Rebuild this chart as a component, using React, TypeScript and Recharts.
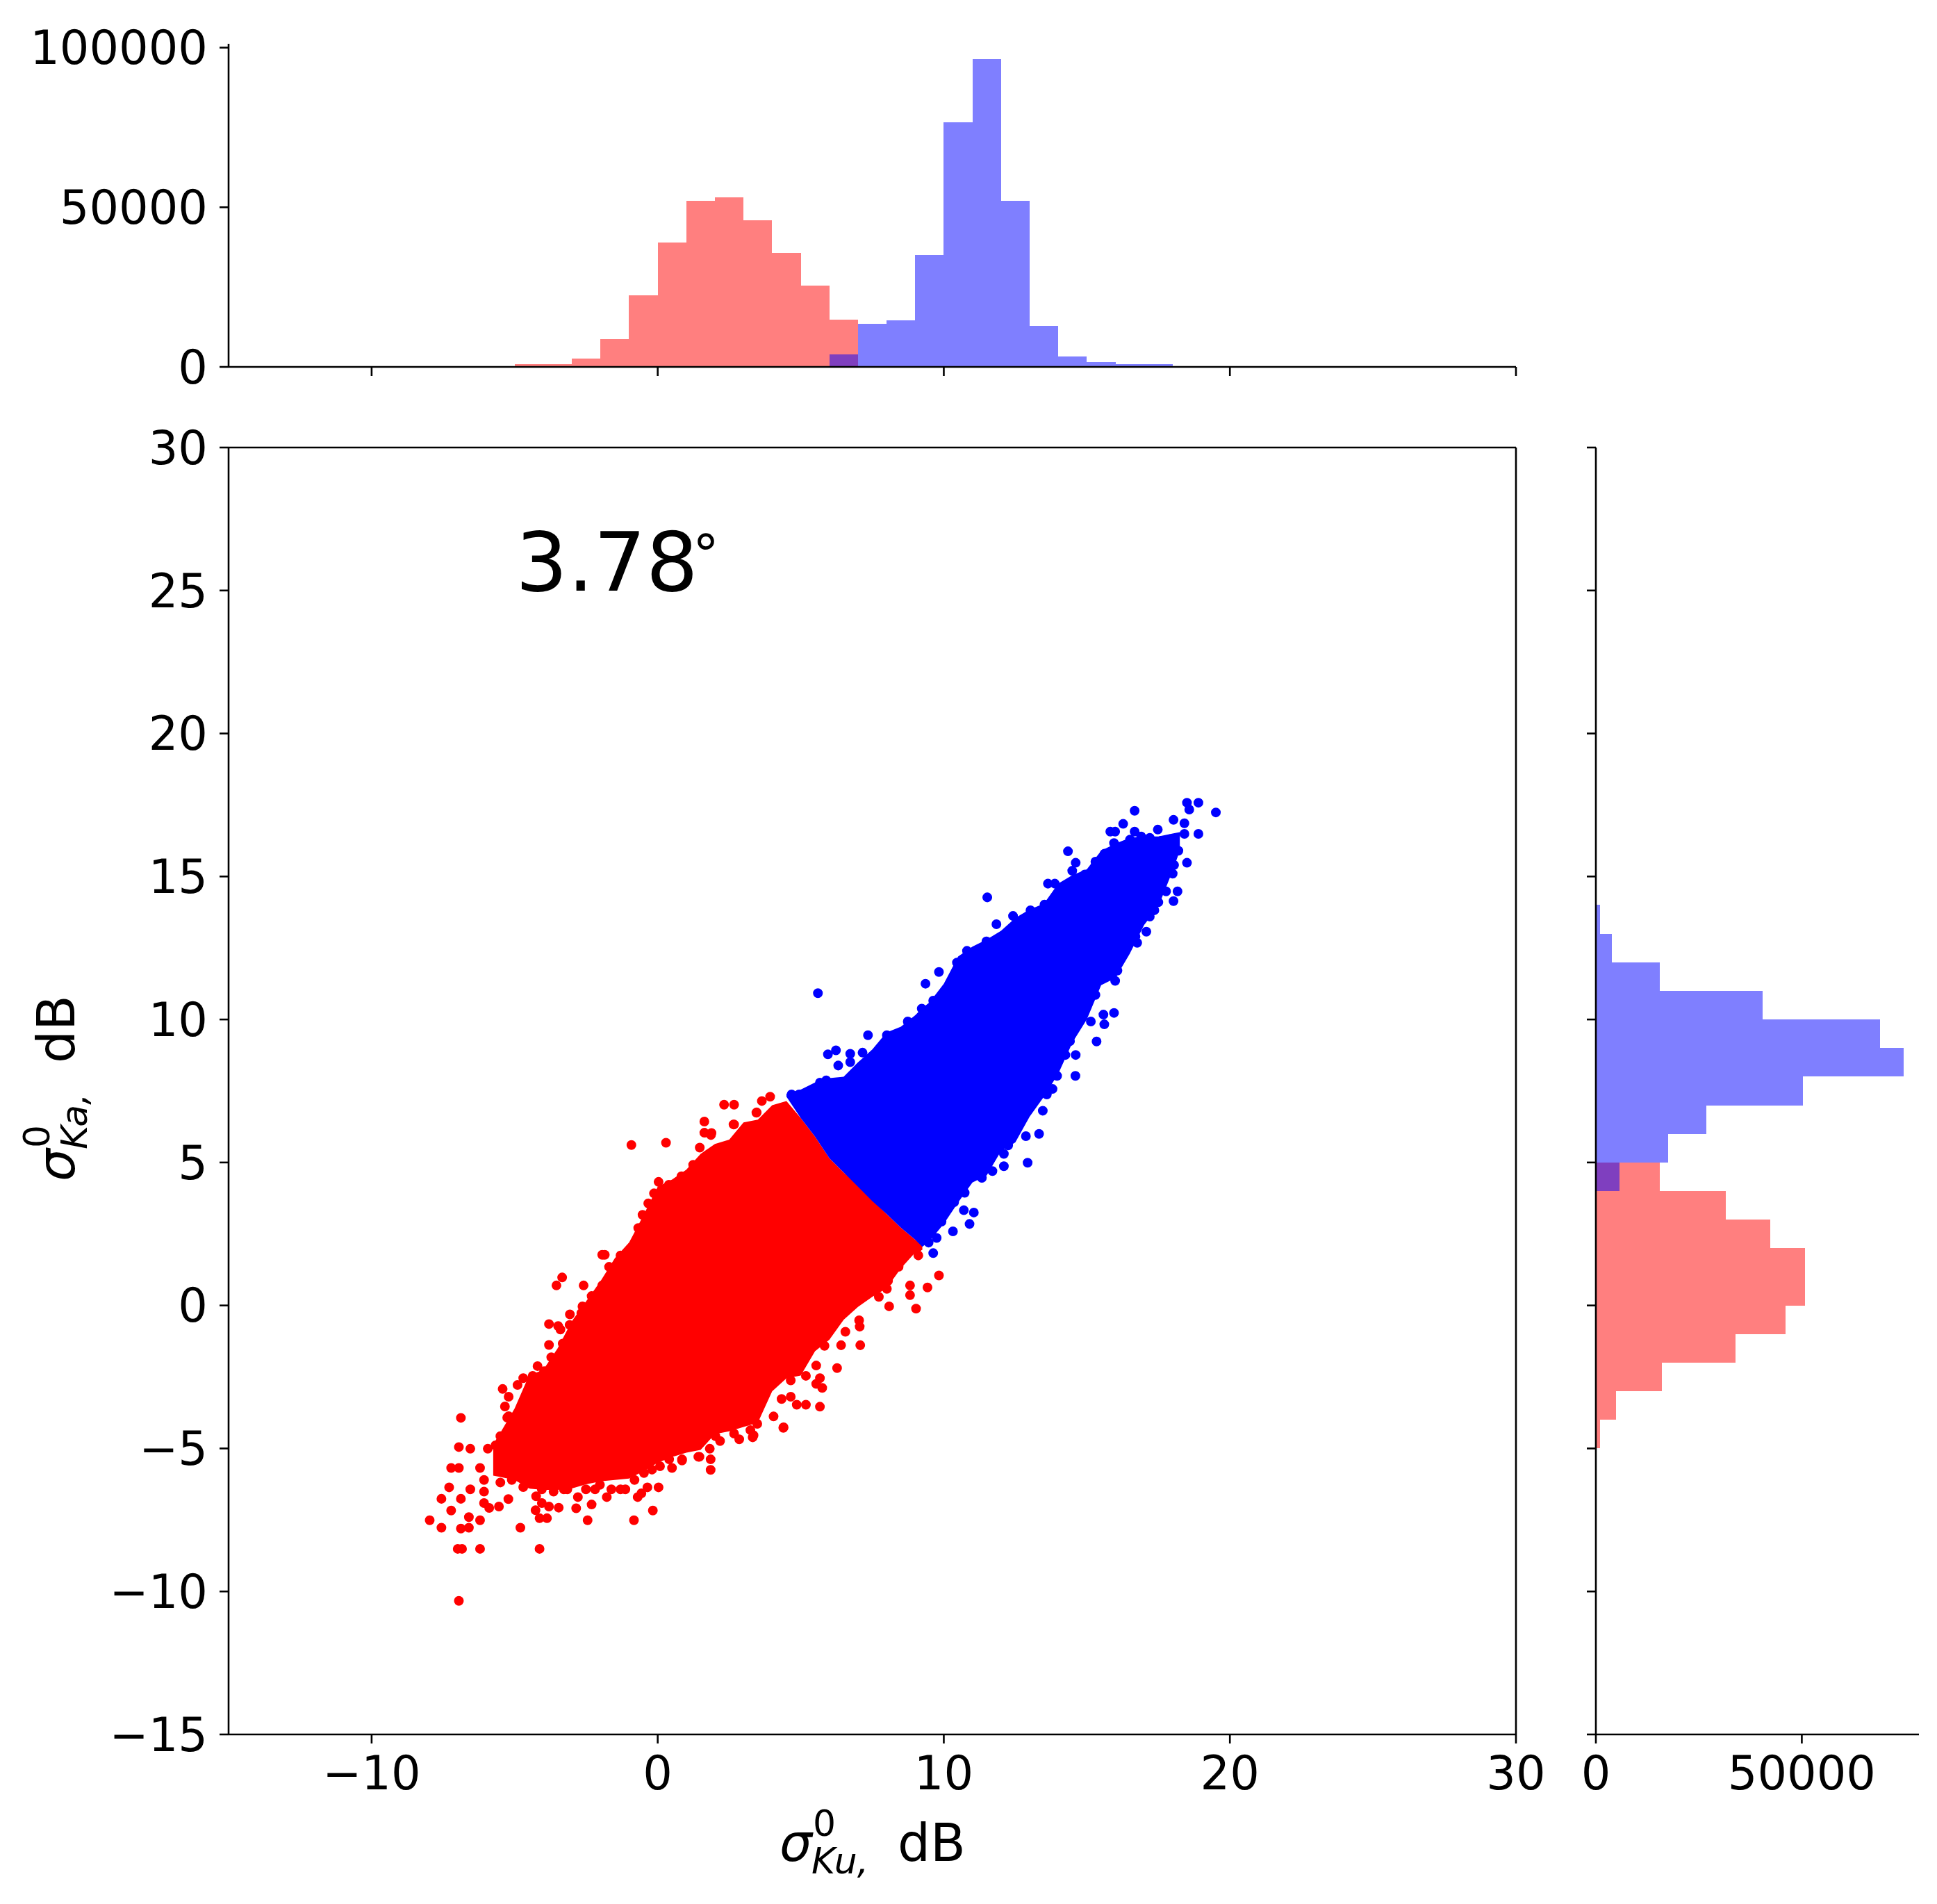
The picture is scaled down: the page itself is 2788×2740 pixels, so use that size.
import { Area, Bar, BarChart, ComposedChart, Scatter, XAxis, YAxis, ZAxis } from 'recharts'

const FONT = '"DejaVu Sans", sans-serif'
const TICK_SIZE = 13
const LINE = { stroke: '#000', strokeWidth: 2.6 }
const TICK_TEXT = { fontSize: 67, fill: '#000', fontFamily: FONT }
// just under one bin, recharts shrinks a bar that fills its band
const BIN_W = 41.17
const BIN_H = 41.15

const kuTicks = [-10, 0, 10, 20, 30]
const kaTicks = [-15, -10, -5, 0, 5, 10, 15, 20, 25, 30]
const topCountTicks = [0, 50000, 100000]
const rightCountTicks = [0, 50000]

// top histogram, 1 dB bins
const kuBins = [-4.5, -3.5, -2.5, -1.5, -0.5, 0.5, 1.5, 2.5, 3.5, 4.5, 5.5, 6.5, 7.5, 8.5, 9.5, 10.5, 11.5, 12.5, 13.5, 14.5, 15.5, 16.5, 17.5]
const kuRed = [850, 850, 2640, 8700, 22450, 38870, 52080, 53200, 45940, 35750, 25570, 14700]
const kuBlue = [3870, 13400, 14600, 35100, 76600, 96400, 52080, 12900, 3200, 1500, 850, 850]

// right histogram, 1 dB bins
const kaBins = [-4.5, -3.5, -2.5, -1.5, -0.5, 0.5, 1.5, 2.5, 3.5, 4.5, 5.5, 6.5, 7.5, 8.5, 9.5, 10.5, 11.5, 12.5, 13.5]
const kaRed = [1080, 4830, 16080, 33880, 46090, 50730, 50730, 42280, 31530, 15570]
const kaBlue = [5790, 17480, 26890, 50290, 74700, 69040, 40430, 15570, 3880, 1080]

const cloudKu = [-5.75, -5.5, -5, -4.5, -4, -3.5, -3, -2.5, -2, -1.5, -1, -0.5, 0, 0.5, 1, 1.5, 2, 2.5, 3, 3.5, 4, 4.5, 5, 5.5, 6, 6.5, 7, 7.5, 8, 8.5, 9, 9.25, 9.5, 10, 10.5, 11, 11.5, 12, 12.5, 13, 13.5, 14, 14.5, 15, 15.5, 16, 16.5, 17, 17.5, 18, 18.25]
const redLow = [-5.95, -6, -6.1, -6.4, -6.45, -6.45, -6.4, -6.25, -6.15, -6.1, -6.05, -5.8, -5.5, -5.3, -5.15, -5.05, -4.5, -4.4, -4.25, -4.1, -3, -2.55, -2.45, -1.6, -1.2, -0.5, -0.05, 0.3, 0.6, 1.3, 1.85, 1.95]
const redHigh = [-4.85, -4.45, -3.6, -2.45, -2.25, -1.5, -0.55, 0.15, 0.85, 1.65, 2.2, 3.15, 4.15, 4.4, 4.75, 5.3, 5.65, 5.8, 6.4, 6.5, 7, 7.15, 6.55, 5.9, 5.15, 4.65, 4.2, 3.7, 3.2, 2.72, 2.3, 2.1]
const blueLow = [7.3, 6.55, 5.9, 5.15, 4.65, 4.15, 3.65, 3.2, 2.72, 2.3, 2.05, 2.25, 2.85, 3.6, 4.3, 4.55, 5.4, 5.7, 6.6, 7.3, 8.1, 9.2, 10, 11.2, 11.45, 12.3, 13.3, 13.95, 15.2, 15.9]
const blueHigh = [7.4, 7.55, 7.8, 7.95, 8, 8.5, 8.95, 9.55, 9.75, 10.15, 10.4, 10.6, 11.25, 12.2, 12.55, 12.8, 13.1, 13.55, 13.85, 14.05, 14.75, 15.05, 15.25, 15.9, 16.15, 16.35, 16.4, 16.4, 16.5, 16.55]
const BLUE_START = cloudKu.indexOf(4.5)

const redDots = [
  [-6.95, -10.33], [-4.13, -8.51], [-6.21, -8.51], [-6.99, -8.51], [-6.84, -8.51], [-4.8, -7.77], [-2.45, -7.51], [-0.83, -7.51],
  [-0.17, -7.17], [-7.97, -7.51], [-7.56, -7.77], [-6.88, -7.8], [-6.6, -7.77], [-6.6, -7.4], [-6.21, -7.51], [-7.22, -7.17],
  [-7.56, -6.76], [-6.88, -6.76], [-7.29, -6.36], [-6.55, -6.43], [-7.22, -5.68], [-6.95, -5.68], [-6.21, -5.68], [-6.95, -4.95],
  [-6.55, -5.01], [-5.94, -5.01], [-6.88, -3.93], [-3.8, -1.38], [-3.8, -0.65], [-3.07, -0.31], [-3.54, 0.7], [-3.34, 0.98],
  [-2.59, 0.7], [-1.85, 1.77], [-1.94, 1.77], [-4.2, -2.12], [-5.42, -2.92], [-5.21, -3.19], [-5.34, -3.53], [-5.21, -3.87],
  [0.03, -6.36], [-0.36, -6.36], [-0.57, -6.57], [-0.7, -6.7], [-1.78, -6.7], [-2.31, -6.96], [-2.85, -7.09], [-3.46, -7.07],
  [-3.87, -7.44], [-4.13, -7.44], [-4.27, -7.16], [-2.79, -6.7], [0.5, -5.68], [1.85, -5.75], [1.85, -5.38], [2.18, -4.74],
  [2.85, -4.68], [3.32, -4.61], [3.48, -4.14], [-6.07, -6.1], [-6.07, -6.51], [-6.07, -6.91], [-5.89, -7.08], [-5.55, -7.03],
  [-5.22, -6.77], [-4.25, -6.67], [-4.05, -6.91], [-3.8, -7.03], [-3.28, -6.43], [-2.02, -6.27], [-1.3, -6.43], [-0.81, -6.1],
  [-0.2, -5.74], [0.85, -5.42], [1.46, -5.29], [1.82, -5.01], [-2.63, -0.03], [-3.48, -0.72], [-4.7, -2.54], [-4.9, -2.78],
  [2.32, 7.02], [2.67, 7.02], [3.64, 7.15], [3.93, 7.3], [3.46, 6.75], [1.63, 6.43], [1.63, 6.04], [1.86, 5.96], [1.47, 5.52],
  [2.67, 6.33], [9.83, 1.05], [9.43, 0.63], [8.82, 0.7], [8.82, 0.36], [9.03, -0.11], [8.09, -0.03], [7.04, -0.52], [7.06, -0.74],
  [7.08, -1.39], [6.41, -1.39], [6.27, -2.19], [5.67, -2.54], [5.54, -2.74], [5.75, -2.88], [5.67, -3.54], [5.18, -3.47],
  [4.86, -3.47], [4.65, -3.19], [4.33, -3.27], [4.05, -3.88], [4.39, -4.28], [8.05, 0.86], [8.01, 0.58], [7.73, 0.3],
  [6.56, -0.92], [5.83, -1.41], [5.54, -2.1], [5.18, -2.46], [4.65, -2.62], [8.42, 1.35], [9.11, 1.75], [9.06, 1.99],
  [-0.92, 5.61], [0.29, 5.69], [-5.67, -4.89], [-5.5, -4.57], [-5.26, -3.92], [-4.37, -2.46], [-3.97, -2.3], [-3.72, -1.81],
  [-3.32, -1.33], [-3.4, -0.84], [-3.08, -0.68], [-2.67, -0.27], [-2.31, 0.33], [-1.94, 0.7], [-1.7, 1.35], [-1.3, 1.75],
  [-5.5, -6.19], [-5.1, -6.1], [-4.7, -6.35], [-4.05, -6.43], [-3.64, -6.51], [-3.16, -6.43], [-2.51, -6.43], [-2.19, -6.43],
  [-1.62, -6.43], [-1.13, -6.43], [-0.48, -5.86], [0.08, -5.62], [0.4, -5.38], [0.85, -5.38], [1.42, -5.29], [2.02, -4.57],
  [2.67, -4.48], [3.24, -4.36], [-0.53, 3.17], [-0.33, 3.57], [-0.68, 2.71], [-0.13, 3.92], [0.03, 4.32], [0.39, 4.22],
  [0.83, 4.52], [1.24, 4.92], [1.88, 6.03], [2.65, 6.33], [3.45, 6.74], [4.4, -4.26], [3.35, -4.54],
]

const blueDots = [
  [9.63, 1.83], [10.32, 2.59], [10.9, 2.85], [10.7, 3.33], [11.05, 3.25], [12.93, 4.99], [13.46, 6.81], [13.33, 6], [12.87, 5.92],
  [12.25, 5.6], [12.1, 4.87], [11.33, 4.46], [10.73, 3.94], [10.36, 3.61], [9.92, 2.93], [9.75, 2.36], [9.47, 2.2], [13.6, 7.38],
  [5.6, 10.92], [7.35, 9.45], [7.16, 8.84], [6.73, 8.8], [6.73, 8.51], [6.31, 8.39], [6.23, 8.92], [5.95, 8.78], [5.67, 7.79],
  [5.89, 7.87], [4.68, 7.38], [4.94, 7.38], [8.01, 9.45], [8.38, 9.45], [8.74, 9.93], [9.23, 10.38], [9.63, 10.66],
  [19.51, 17.24], [18.9, 17.58], [18.5, 17.58], [18.58, 17.34], [16.67, 17.3], [16.27, 16.84], [18.03, 16.98], [18.41, 16.86],
  [18.9, 16.49], [18.41, 16.49], [17.48, 16.64], [15.82, 16.57], [15.99, 16.57], [16.67, 16.57], [15.95, 16.17], [16.51, 16.29],
  [18.5, 15.48], [18.05, 15.4], [14.34, 15.88], [14.61, 15.48], [14.49, 15.2], [11.52, 14.27], [13.64, 14.75], [13.88, 14.75],
  [17.77, 14.48], [18.17, 14.48], [18.03, 14.14], [17.36, 13.82], [17.08, 13.07], [16.76, 12.68], [16.27, 12.36], [16.07, 11.71],
  [15.99, 11.35], [15.3, 10.86], [15.95, 10.23], [15.58, 10.17], [15.61, 9.83], [15.14, 9.93], [15.34, 9.23], [14.41, 9.24],
  [14.61, 8.76], [14.25, 8.76], [14.6, 8.03], [13.96, 8.03], [13.8, 7.57], [13.6, 7.42], [13.32, 7.42], [9.83, 11.66],
  [9.36, 11.25], [10.46, 11.99], [10.81, 12.4], [11.49, 12.73], [11.84, 13.33], [12.42, 13.62], [13.03, 13.82], [13.52, 14.02],
  [14.93, 15.07], [15.62, 15.8], [15.3, 15.52], [16.9, 16.4], [17.2, 16.35], [17.6, 16.25], [17.9, 16.3], [18.2, 15.9],
  [18, 15.1], [17.6, 14.7], [17.5, 14.1], [17.2, 13.6], [16.8, 13.4], [16.7, 12.9], [15.9, 11.6], [11.7, 4.7], [12.1, 5.3],
]

const cloudRows = cloudKu.map((x, i) => ({
  x,
  redBand: i < redLow.length ? [redLow[i], redHigh[i]] : null,
  blueBand: i >= BLUE_START ? [blueLow[i - BLUE_START], blueHigh[i - BLUE_START]] : null,
}))
const toPoints = (list: number[][]) => list.map(([x, y]) => ({ x, y }))
const kuRows = kuBins.map((bin, i) => ({ bin, red: kuRed[i], blue: kuBlue[i - 11] }))
const kaRows = kaBins.map((bin, i) => ({ bin, red: kaRed[i], blue: kaBlue[i - 9] }))
const signed = (v: number) => String(v).replace('-', '\u2212')
const noLabel = () => ''

function SigmaLabel({ x, y, band, rotate = false }: { x: number; y: number; band: string; rotate?: boolean }) {
  return (
    <g transform={`translate(${x} ${y})${rotate ? ' rotate(-90)' : ''}`}>
      <text fontFamily={FONT} fontSize={74} fill="#000">
        <tspan x={0} y={0} fontStyle="italic">σ</tspan>
        <tspan x={48} y={-36} fontSize={52}>0</tspan>
        <tspan x={46} y={18} fontSize={52} fontStyle="italic">{band},</tspan>
        <tspan x={170} y={0}>dB</tspan>
      </text>
    </g>
  )
}

export default function App() {
  return (
    <div style={{ position: 'absolute', left: 0, top: 0, width: 2788, height: 2740, background: '#fff' }}>
      {/* top histogram */}
      <div style={{ position: 'absolute', left: 0, top: 0 }}>
        <BarChart width={2788} height={600} data={kuRows} margin={{ top: 63, right: 606, left: 0, bottom: 0 }} barGap={0}>
          <XAxis xAxisId="red" type="number" dataKey="bin" domain={[-15, 30]} ticks={kuTicks} tickFormatter={noLabel} height={72} interval={0}
            axisLine={LINE} tickLine={LINE} tickSize={TICK_SIZE} />
          <XAxis xAxisId="blue" type="number" dataKey="bin" domain={[-15, 30]} height={0} hide />
          <YAxis type="number" domain={[0, 101200]} ticks={topCountTicks} width={329} interval={0} axisLine={LINE} tickLine={LINE}
            tickSize={TICK_SIZE} tickMargin={17} tick={TICK_TEXT} />
          <Bar xAxisId="red" dataKey="red" fill="#ff0000" fillOpacity={0.5} barSize={BIN_W} shapeRendering="crispEdges" isAnimationActive={false} />
          <Bar xAxisId="blue" dataKey="blue" fill="#0000ff" fillOpacity={0.5} barSize={BIN_W} shapeRendering="crispEdges" isAnimationActive={false} />
        </BarChart>
      </div>

      {/* right histogram */}
      <div style={{ position: 'absolute', left: 2190, top: 0 }}>
        <BarChart width={598} height={2740} layout="vertical" data={kaRows} margin={{ top: 644, right: 26, left: 0, bottom: 0 }} barGap={0}>
          <XAxis type="number" domain={[0, 78435]} ticks={rightCountTicks} height={244} interval={0} axisLine={LINE} tickLine={LINE}
            tickSize={TICK_SIZE} tickMargin={18} tick={TICK_TEXT} />
          <YAxis yAxisId="red" type="number" dataKey="bin" domain={[-15, 30]} ticks={kaTicks} tickFormatter={noLabel} width={107} interval={0}
            axisLine={LINE} tickLine={LINE} tickSize={TICK_SIZE} reversed />
          <YAxis yAxisId="blue" type="number" dataKey="bin" domain={[-15, 30]} width={0} hide reversed />
          <Bar yAxisId="red" dataKey="red" fill="#ff0000" fillOpacity={0.5} barSize={BIN_H} shapeRendering="crispEdges" isAnimationActive={false} />
          <Bar yAxisId="blue" dataKey="blue" fill="#0000ff" fillOpacity={0.5} barSize={BIN_H} shapeRendering="crispEdges" isAnimationActive={false} />
        </BarChart>
      </div>

      {/* main scatter */}
      <div style={{ position: 'absolute', left: 0, top: 0 }}>
        <ComposedChart width={2788} height={2740} data={cloudRows} margin={{ top: 0, right: 0, left: 0, bottom: 0 }}
          style={{ background: 'transparent' }}>
          <XAxis type="number" dataKey="x" domain={[-15, 30]} ticks={kuTicks} height={244} interval={0} axisLine={LINE} tickLine={LINE}
            tickSize={TICK_SIZE} tickMargin={18} tick={TICK_TEXT} tickFormatter={signed} />
          <XAxis xAxisId="topEdge" orientation="top" type="number" domain={[-15, 30]} height={644} tick={false} tickLine={false} axisLine={LINE} />
          <YAxis type="number" dataKey="y" domain={[-15, 30]} ticks={kaTicks} width={329} interval={0} axisLine={LINE} tickLine={LINE}
            tickSize={TICK_SIZE} tickMargin={17} tick={TICK_TEXT} tickFormatter={signed} />
          <YAxis yAxisId="rightEdge" orientation="right" type="number" domain={[-15, 30]} width={606} tick={false} tickLine={false} axisLine={LINE} />
          <ZAxis range={[154, 154]} />
          <Area dataKey="redBand" stroke="none" fill="#ff0000" fillOpacity={1} dot={false} activeDot={false} isAnimationActive={false} />
          <Scatter data={toPoints(redDots)} fill="#ff0000" isAnimationActive={false} />
          <Area dataKey="blueBand" stroke="none" fill="#0000ff" fillOpacity={1} dot={false} activeDot={false} isAnimationActive={false} />
          <Scatter data={toPoints(blueDots)} fill="#0000ff" isAnimationActive={false} />
          <text x={742} y={850} fontFamily={FONT} fontSize={118} fill="#000">3.78</text>
          <text x={997} y={824} fontFamily={FONT} fontSize={76} fill="#000">°</text>
          <SigmaLabel x={1122} y={2678} band="Ku" />
          <SigmaLabel x={107} y={1700} band="Ka" rotate />
        </ComposedChart>
      </div>
    </div>
  )
}
